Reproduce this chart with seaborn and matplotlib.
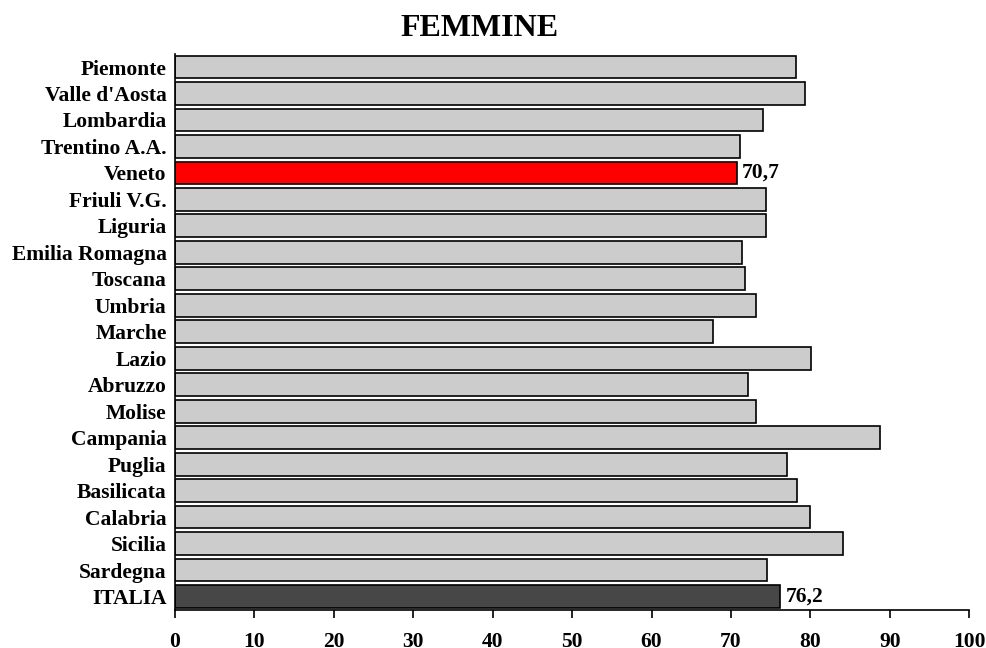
import matplotlib.pyplot as plt
import seaborn as sns
import pandas as pd

regioni = ["Piemonte", "Valle d'Aosta", "Lombardia", "Trentino A.A.", "Veneto",
           "Friuli V.G.", "Liguria", "Emilia Romagna", "Toscana", "Umbria",
           "Marche", "Lazio", "Abruzzo", "Molise", "Campania", "Puglia",
           "Basilicata", "Calabria", "Sicilia", "Sardegna", "ITALIA"]
valori = [78.2, 79.3, 74.0, 71.1, 70.7, 74.4, 74.4, 71.4, 71.8, 73.1,
          67.8, 80.1, 72.1, 73.1, 88.8, 77.1, 78.3, 79.9, 84.1, 74.5, 76.2]
etichette = {"Veneto": "70,7", "ITALIA": "76,2"}
tick_x = [0, 10, 20, 30, 40, 50, 60, 70, 80, 90, 100]

GRIGIO = "#cccccc"
ROSSO = "#ff0000"
SCURO = "#474747"
colori = [ROSSO if r == "Veneto" else SCURO if r == "ITALIA" else GRIGIO for r in regioni]

sns.set_style("white")
plt.rcParams['font.family'] = ['Liberation Serif', 'DejaVu Serif']
plt.rcParams['font.weight'] = 'bold'
plt.rcParams['text.color'] = 'black'
plt.rcParams['xtick.color'] = 'black'
plt.rcParams['ytick.color'] = 'black'

df = pd.DataFrame({"regione": regioni, "valore": valori})

fig = plt.figure(figsize=(9.86, 6.48), dpi=100)
ax = fig.add_axes([0.1775, 0.059, 0.8055, 0.858])

sns.barplot(data=df, x="valore", y="regione", hue="regione", palette=colori,
            saturation=1, legend=False, orient="h", width=0.86,
            edgecolor="black", linewidth=1.2, ax=ax)

for i, (r, v) in enumerate(zip(regioni, valori)):
    if r in etichette:
        ax.text(v + 0.7, i, etichette[r], va="center", ha="left",
                fontsize=15.5, fontweight="bold", color="black")

ax.set_xlim(0, 100)
ax.set_ylim(len(regioni) - 0.5, -0.5)
ax.set_xticks(tick_x)
ax.set_xticklabels([str(t) for t in tick_x], fontsize=15.5, fontweight="bold")
ax.tick_params(axis="x", direction="out", length=6, width=1.2, pad=10, bottom=True)
ax.tick_params(axis="y", length=0, labelsize=15.5, pad=6)
for lab in ax.get_yticklabels():
    lab.set_fontweight("bold")
ax.set_xlabel("")
ax.set_ylabel("")

for spine in ["top", "right"]:
    ax.spines[spine].set_visible(False)
ax.spines["left"].set_color("black")
ax.spines["bottom"].set_color("black")
ax.spines["left"].set_linewidth(1.2)
ax.spines["bottom"].set_linewidth(1.2)

fig.text(0.486, 1 - 36 / 648, "FEMMINE", fontsize=23, fontweight="bold",
         ha="center", va="baseline", color="black")

fig.savefig("out.png", dpi=100, facecolor="white")
plt.close(fig)
